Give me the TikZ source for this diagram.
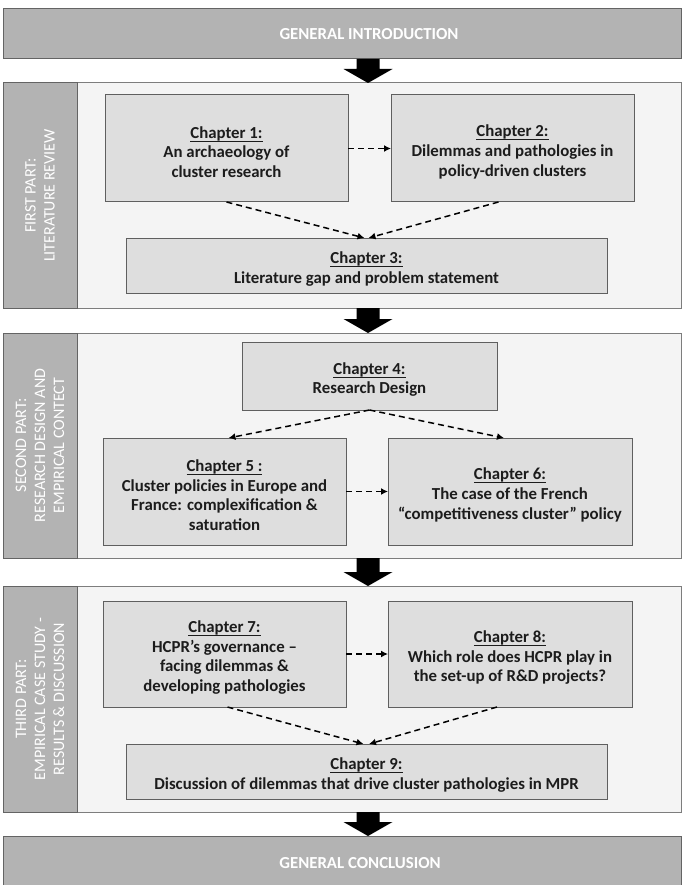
\documentclass[tikz,border=0pt]{standalone}
\usepackage{fontspec}
\setmainfont{Carlito}
\usetikzlibrary{calc,arrows.meta}
\definecolor{darkfill}{RGB}{179,179,179}
\definecolor{darkline}{RGB}{100,100,100}
\definecolor{panelfill}{RGB}{244,244,244}
\definecolor{panelline}{RGB}{125,125,125}
\definecolor{chapfill}{RGB}{222,222,222}
\definecolor{chapline}{RGB}{95,95,95}
\definecolor{txt}{RGB}{28,28,28}
\newcommand\chu[1]{\underline{\smash{#1}\rule[-1.3pt]{0pt}{1pt}}\rule{0pt}{19pt}}
\newcommand\blockarrow[2]{%
  \fill[black] let \p1=(#1), \p2=(#2) in
    (\x1-11.5pt,\y1) -- (\x1+11.5pt,\y1) -- (\x1+11.5pt,\y2+14pt) -- (\x1+24.5pt,\y2+14pt)
    -- (\x1,\y2) -- (\x1-24.5pt,\y2+14pt) -- (\x1-11.5pt,\y2+14pt) -- cycle;}
\tikzset{
  box/.style={anchor=north west, inner sep=0pt, outer sep=0pt},
  chapbox/.style={box, draw=chapline, fill=chapfill, line width=1pt, text=txt, align=center,
    font=\fontsize{16.8}{19.8}\selectfont\bfseries},
  panelbox/.style={box, draw=panelline, fill=panelfill, line width=1pt},
  labelbox/.style={box, draw=darkline, fill=darkfill, line width=1pt},
  endbox/.style={box, draw=darkline, fill=darkfill, line width=1pt},
  labeltext/.style={text=white, align=center, rotate=90, font=\fontsize{16}{19}\selectfont},
  endtext/.style={text=white, font=\fontsize{16.8}{19}\selectfont\bfseries},
  dasharrow/.style={draw=black, line width=1.5pt, dash pattern=on 6pt off 4pt,
    -{Latex[length=7pt,width=7pt]}},
}
\begin{document}
\begin{tikzpicture}[x=1pt,y=-1pt]
\useasboundingbox (0,0) rectangle (684,885);
\begin{scope}
\clip (0,0) rectangle (684,885);
% general introduction / conclusion
\node[endbox, minimum width=678, minimum height=50] (intro) at (3,9) {};
\node[endtext] (introtxt) at (369,34) {GENERAL INTRODUCTION};
\node[endbox, minimum width=678, minimum height=60] (concl) at (3,836) {};
\node[endtext] (concltxt) at (360,863) {GENERAL CONCLUSION};

% panels
\node[panelbox, minimum width=678, minimum height=225] (p1) at (3,83) {};
\node[labelbox, minimum width=74, minimum height=225] (l1) at (3,83) {};
\node[labeltext] (l1t) at (l1.center) {FIRST PART:\\LITERATURE REVIEW};

\node[panelbox, minimum width=678, minimum height=225] (p2) at (3,333) {};
\node[labelbox, minimum width=74, minimum height=225] (l2) at (3,333) {};
\node[labeltext] (l2t) at (l2.center) {SECOND PART:\\RESEARCH DESIGN AND\\EMPIRICAL CONTECT};

\node[panelbox, minimum width=678, minimum height=226] (p3) at (3,586) {};
\node[labelbox, minimum width=74, minimum height=226] (l3) at (3,586) {};
\node[labeltext] (l3t) at (l3.center) {THIRD PART:\\EMPIRICAL CASE STUDY -\\RESULTS \& DISCUSSION};

% block arrows
\coordinate (ax) at (368,0);
\blockarrow{intro.south -| ax}{p1.north -| ax}
\blockarrow{p1.south -| ax}{p2.north -| ax}
\blockarrow{p2.south -| ax}{p3.north -| ax}
\blockarrow{p3.south -| ax}{concl.north -| ax}

% chapters
\node[chapbox, minimum width=243, minimum height=107] (ch1) at (105,95)
  {\chu{Chapter 1:}\\An archaeology of\\cluster research};
\node[chapbox, minimum width=243, minimum height=107] (ch2) at (391,95)
  {\chu{Chapter 2:}\\Dilemmas and pathologies in\\policy-driven clusters};
\node[chapbox, minimum width=481, minimum height=55] (ch3) at (126,238)
  {\chu{Chapter 3:}\\Literature gap and problem statement};

\node[chapbox, minimum width=255, minimum height=68] (ch4) at (242,342)
  {\chu{Chapter 4:}\\Research Design};
\node[chapbox, minimum width=243, minimum height=107] (ch5) at (103,438)
  {\chu{Chapter 5 :}\\Cluster policies in Europe and\\France: complexification \&\\saturation};
\node[chapbox, minimum width=244, minimum height=107] (ch6) at (388,438)
  {\chu{Chapter 6:}\\The case of the French\\“competitiveness cluster” policy};

\node[chapbox, minimum width=243, minimum height=106] (ch7) at (103,601)
  {\chu{Chapter 7:}\\HCPR’s governance –\\facing dilemmas \&\\developing pathologies};
\node[chapbox, minimum width=244, minimum height=106] (ch8) at (388,601)
  {\chu{Chapter 8:}\\Which role does HCPR play in\\the set-up of R\&D projects?};
\node[chapbox, minimum width=481, minimum height=55] (ch9) at (126,744)
  {\chu{Chapter 9:}\\Discussion of dilemmas that drive cluster pathologies in MPR};

% dashed connectors
\draw[dasharrow] (ch1.east) -- (ch2.west);
\draw[dasharrow] (ch1.south) -- ([xshift=-2pt]ch3.north);
\draw[dasharrow] ([xshift=-14pt]ch2.south) -- ([xshift=2pt]ch3.north);
\draw[dasharrow] (ch4.south) -- ([xshift=4pt]ch5.north);
\draw[dasharrow] (ch4.south) -- ([xshift=-6pt]ch6.north);
\draw[dasharrow] (ch5.east) -- (ch6.west);
\draw[dasharrow] (ch7.east) -- (ch8.west);
\draw[dasharrow] ([xshift=3pt]ch7.south) -- ([xshift=-3pt]ch9.north);
\draw[dasharrow] ([xshift=-13pt]ch8.south) -- ([xshift=2.5pt]ch9.north);
\end{scope}
\end{tikzpicture}
\end{document}
